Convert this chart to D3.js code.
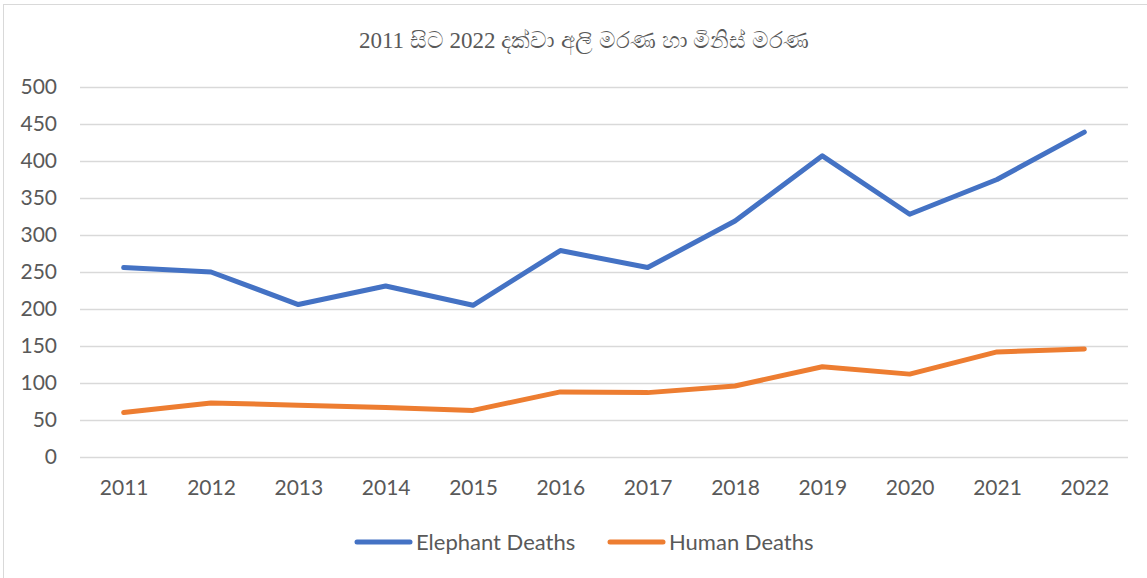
<!DOCTYPE html>
<html>
<head>
<meta charset="utf-8">
<script src="https://cdn.jsdelivr.net/npm/d3@7"></script>
<style>
  html, body { margin: 0; padding: 0; background: #fff; }
  svg { display: block; }
</style>
</head>
<body>
<svg id="chart" width="1147" height="578"></svg>
<script>
const title = "2011 සිට 2022 දක්වා අලි මරණ හා මිනිස් මරණ";
const years = ["2011","2012","2013","2014","2015","2016","2017","2018","2019","2020","2021","2022"];
const elephantDeaths = [256, 250, 206, 231, 205, 279, 256, 319, 407, 328, 375, 439];
const humanDeaths = [60, 73, 70, 67, 63, 88, 87, 96, 122, 112, 142, 146];
const yTicks = [0, 50, 100, 150, 200, 250, 300, 350, 400, 450, 500];
const seriesNames = ["Elephant Deaths", "Human Deaths"];
const seriesColors = ["#4472C4", "#ED7D31"];

const svg = d3.select("#chart");
const W = 1147, H = 578;
const plot = { left: 80, right: 1128, top: 87, bottom: 457 };
const textColor = "#595959";
const font = "Lato, 'Open Sans', sans-serif";

svg.append("rect").attr("width", W).attr("height", H).attr("fill", "#fff");
// chart border (only left/top visible)
svg.append("rect").attr("x", 3.5).attr("y", 4.5).attr("width", 1300).attr("height", 700)
  .attr("fill", "none").attr("stroke", "#d9d9d9").attr("stroke-width", 1);

const x = d3.scalePoint().domain(years).range([plot.left, plot.right]).padding(0.5);
const y = d3.scaleLinear().domain([0, 500]).range([plot.bottom, plot.top]);

// gridlines
const grid = svg.append("g")
  .attr("transform", `translate(${plot.left},0)`)
  .call(d3.axisLeft(y).tickValues(yTicks).tickSize(-(plot.right - plot.left)).tickFormat(""));
grid.select(".domain").remove();
grid.selectAll("line").attr("stroke", "#d9d9d9").attr("stroke-width", 1.3);

// y labels
const yAxis = svg.append("g")
  .attr("transform", `translate(${plot.left},0)`)
  .call(d3.axisLeft(y).tickValues(yTicks).tickSize(0).tickPadding(23));
yAxis.select(".domain").remove();
yAxis.selectAll("text").attr("fill", textColor).attr("font-size", 21).attr("font-family", font);

// x labels
const xAxis = svg.append("g")
  .attr("transform", `translate(0,${plot.bottom})`)
  .call(d3.axisBottom(x).tickSize(0).tickPadding(23));
xAxis.select(".domain").remove();
xAxis.selectAll("text").attr("fill", textColor).attr("font-size", 21).attr("font-family", font);

// lines
const line = d3.line().x((d, i) => x(years[i])).y(d => y(d));
[elephantDeaths, humanDeaths].forEach((vals, k) => {
  svg.append("path").datum(vals)
    .attr("d", line)
    .attr("fill", "none")
    .attr("stroke", seriesColors[k])
    .attr("stroke-width", 5)
    .attr("stroke-linejoin", "round")
    .attr("stroke-linecap", "round");
});

// title
svg.append("text")
  .attr("x", 584).attr("y", 48)
  .attr("text-anchor", "middle")
  .attr("fill", textColor)
  .attr("font-size", 23)
  .attr("font-family", "'Liberation Serif', 'Times New Roman', serif")
  .text(title);

// legend
const legendItems = [
  { x1: 357, x2: 410, tx: 416 },
  { x1: 610, x2: 663, tx: 669 }
];
legendItems.forEach((it, k) => {
  svg.append("line")
    .attr("x1", it.x1).attr("x2", it.x2).attr("y1", 542).attr("y2", 542)
    .attr("stroke", seriesColors[k]).attr("stroke-width", 5).attr("stroke-linecap", "round");
  svg.append("text")
    .attr("x", it.tx).attr("y", 542).attr("dy", "0.35em")
    .attr("fill", textColor).attr("font-size", 22).attr("font-family", font)
    .text(seriesNames[k]);
});
</script>
</body>
</html>
